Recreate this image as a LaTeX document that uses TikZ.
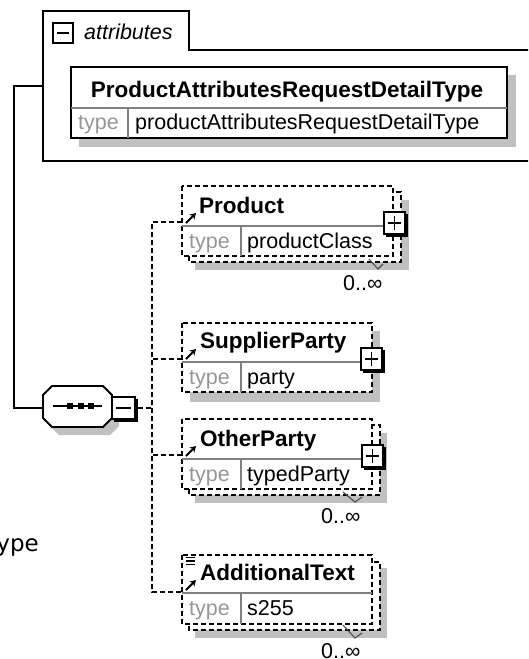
\documentclass[tikz,border=0pt]{standalone}
\usepackage{fontspec}
\setmainfont{Liberation Sans}
\newfontfamily\djvfont{DejaVu Sans}
\usetikzlibrary{arrows.meta}
\definecolor{shade}{RGB}{192,192,192}
\definecolor{divgray}{RGB}{128,128,128}
\definecolor{typegray}{RGB}{150,150,150}
\tikzset{
  ln/.style={line width=1.8pt},
  dsh/.style={line width=1.7pt, dash pattern=on 5pt off 3pt},
  shadowfill/.style={fill=shade, draw=none},
  ebox/.style={dsh, fill=white},
  divider/.style={draw=divgray, line width=1.4pt},
  lbl/.style={inner sep=0pt, anchor=base west, font=\fontsize{21.5}{24}\selectfont},
  namelbl/.style={inner sep=0pt, anchor=base west, font=\fontsize{22.5}{24}\selectfont\bfseries},
  typelbl/.style={lbl, text=typegray},
  refarrow/.style={line width=2pt, -{Stealth[length=6pt,width=7pt]}},
  tick/.style={line width=1.1pt, draw=black!70},
  pics/plusbox/.style={code={
    \fill (2,2) rectangle (24,25);
    \filldraw[fill=white, line width=1.4pt] (0,0) rectangle (21,22);
    \draw[line width=1.6pt] (4,11) -- (17,11) (10.5,4) -- (10.5,18);
  }},
}
\begin{document}
\begin{tikzpicture}[x=1pt, y=-1pt]
\useasboundingbox (0,0) rectangle (528,659);
\clip (0,0) rectangle (528,659);

% ---------- attributes group ----------
\draw[ln, fill=white] (540,50) -- (189,50) -- (189,11) -- (43,11) -- (43,161) -- (540,161);
\draw[line width=1.8pt] (53,23) rectangle (73,43);
\draw[line width=1.8pt] (57,33) -- (69,33);
\node[lbl, font=\fontsize{21.5}{24}\selectfont\itshape] (attrlbl) at (84,39) {attributes};
\coordinate (attrin) at (43,86);

\fill[shadowfill] (79,75) rectangle (516,147);
\draw[ln, fill=white] (71,67) rectangle (507,138);
\draw[divider] (71,108) -- (507,108);
\draw[divider] (128,108) -- (128,138);
\node[inner sep=0pt, anchor=base, font=\fontsize{22.5}{24}\selectfont\bfseries] (typename) at (287,97) {ProductAttributesRequestDetailType};
\node[typelbl] (attrtype) at (78,129) {type};
\node[lbl] (attrtypeval) at (135,129) {productAttributesRequestDetailType};

% ---------- sequence compositor ----------
\fill[shadowfill] (50,403) -- (59,394) -- (110,394) -- (119,403) -- (119,426) -- (110,435) -- (59,435) -- (50,426) -- cycle;
\draw[ln, fill=white] (43,395) -- (52,386) -- (103,386) -- (112,395) -- (112,418) -- (103,427) -- (52,427) -- (43,418) -- cycle;
\draw[line width=1.4pt] (53,406) -- (102,406);
\fill (67,403) rectangle (73,408.5);
\fill (78,403) rectangle (84,408.5);
\fill (88,403) rectangle (94,408.5);
\coordinate (seqin) at (43,408);
\fill (114,399) rectangle (138,422);
\filldraw[fill=white, line width=1.4pt] (112,397) rectangle (135,419);
\draw[line width=1.6pt] (116,408) -- (131,408);
\coordinate (seqout) at (138,408);

% main solid connector
\draw[ln] (attrin) -- (14,86) |- (seqin);

% ---------- Product (0..inf) ----------
\fill[shadowfill] (195,200) rectangle (409,270);
\draw[ebox] (189,192) rectangle (401,262);
\draw[ebox] (182,186) rectangle (393,256);
\draw[divider] (182,226) -- (385,226);
\draw[divider] (241,226) -- (241,256);
\node[namelbl] (prodname) at (199,213) {Product};
\node[typelbl] (prodtype) at (189,248) {type};
\node[lbl] (prodval) at (247,248) {productClass};
\draw[refarrow] (186,223) -- (196,213);
\pic at (384,212) {plusbox};
\draw[tick] (369,259) -- (378,269) -- (383,264);
\node[lbl] (prodmult) at (343,290) {0..∞};
\coordinate (prodin) at (182,222);

% ---------- SupplierParty ----------
\fill[shadowfill] (190,331) rectangle (380,402);
\draw[ebox] (182,323) rectangle (372,392);
\draw[divider] (182,362) -- (362,362);
\draw[divider] (241,362) -- (241,392);
\node[namelbl] (supname) at (200,348) {SupplierParty};
\node[typelbl] (suptype) at (189,384) {type};
\node[lbl] (supval) at (247,384) {party};
\draw[refarrow] (186,359) -- (196,349);
\pic at (361,348) {plusbox};
\coordinate (supin) at (182,359);

% ---------- OtherParty (0..inf) ----------
\fill[shadowfill] (195,433) rectangle (387,503);
\draw[ebox] (189,425) rectangle (380,495);
\draw[ebox] (182,419) rectangle (372,489);
\draw[divider] (182,459) -- (362,459);
\draw[divider] (241,459) -- (241,489);
\node[namelbl] (othname) at (200,446) {OtherParty};
\node[typelbl] (othtype) at (189,481) {type};
\node[lbl] (othval) at (247,481) {typedParty};
\draw[refarrow] (186,456) -- (196,446);
\pic at (362,445) {plusbox};
\draw[tick] (343,492) -- (355,502) -- (362,497);
\node[lbl] (othmult) at (321,523) {0..∞};
\coordinate (othin) at (182,455);

% ---------- AdditionalText (0..inf) ----------
\fill[shadowfill] (195,568) rectangle (387,638);
\draw[ebox] (189,562) rectangle (380,630);
\draw[ebox] (182,555) rectangle (372,624);
\draw[divider] (182,593) -- (372,593);
\draw[divider] (241,593) -- (241,624);
\node[namelbl] (addname) at (200,580) {AdditionalText};
\node[typelbl] (addtype) at (189,615) {type};
\node[lbl] (addval) at (247,615) {s255};
\draw[line width=1.1pt] (186,557.5) -- (195,557.5) (186,561) -- (195,561) (186,564.5) -- (195,564.5);
\draw[refarrow] (186,590) -- (196,580);
\draw[tick] (343,625) -- (355,638) -- (362,633);
\node[lbl] (addmult) at (321,658) {0..∞};
\coordinate (addin) at (182,592);

% ---------- dashed connectors ----------
\draw[dsh] (seqout) -- (152,408);
\draw[dsh] (prodin) -- (152,222) |- (addin);
\draw[dsh] (supin) -- (152,359);
\draw[dsh] (othin) -- (152,455);

% ---------- cropped caption text ----------
\node[inner sep=0pt, anchor=base east, font=\djvfont\fontsize{23}{28}\selectfont] (cap) at (39,551) {ype};
\end{tikzpicture}
\end{document}
